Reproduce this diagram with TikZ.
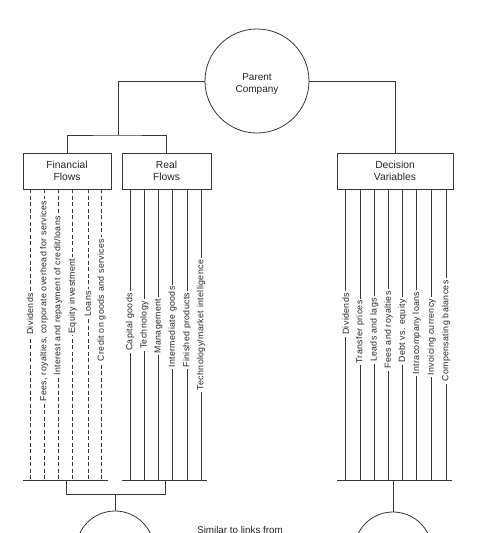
\documentclass[tikz,border=0pt]{standalone}
\usepackage{fontspec}
\setmainfont{Liberation Sans}
\newfontfamily\labfont[LetterSpace=4]{Liberation Sans}
\begin{document}
\begin{tikzpicture}[x=1pt,y=-1pt,
  ink/.style={draw=black!78, line width=0.8pt},
  circ/.style={ink, circle, minimum size=104pt, inner sep=0pt},
  ctext/.style={align=center, font=\fontsize{10}{12}\selectfont, text=black!85},
  smallcirc/.style={ink, circle, minimum size=78pt, inner sep=0pt},
  box/.style={ink, rectangle, inner sep=0pt, minimum height=36pt, align=center, font=\fontsize{10.3}{11.5}\selectfont, text=black!85},
  flow/.style={ink},
  dflow/.style={ink, dash pattern=on 4pt off 2.5pt},
  lab/.style={fill=white, inner xsep=2pt, inner ysep=0.5pt, rotate=90, font=\labfont\fontsize{8.8}{10}\selectfont, text=black!85}
]
\useasboundingbox (0,0) rectangle (482,533);
\clip (0,0) rectangle (482,533);

% main nodes
\node[circ] (pc) at (257,81) {};
\node[ctext] (pct) at (257,84) {Parent\\Company};
\node[box, minimum width=88pt] (fin) at (67,171) {Financial\\Flows};
\node[box, minimum width=89pt] (real) at (166.5,171) {Real\\Flows};
\node[box, minimum width=116pt] (dec) at (395,171) {Decision\\Variables};
\node[smallcirc] (bl) at (115,550) {};
\node[smallcirc] (br) at (393,551) {};
\node[font=\fontsize{9.8}{11}\selectfont, text=black!85, anchor=north] (sim) at (240,523) {Similar to links from};

% top connectors
\coordinate (lj) at (118,135);
\draw[ink] (pc.west) -| (lj);
\draw[ink] (fin.north) |- (lj) -| (real.north);
\draw[ink] (pc.east) -| (dec.north);

% bars
\coordinate (fb1) at (23,480);  \coordinate (fb2) at (108,480);
\coordinate (rb1) at (122,480); \coordinate (rb2) at (207,480);
\coordinate (db1) at (337,480); \coordinate (db2) at (452,480);
\draw[ink] (fb1) -- (fb2);
\draw[ink] (rb1) -- (rb2);
\draw[ink] (db1) -- (db2);

% flow lines
\foreach \x in {30,44,58,72.5,88,101.5}
  \draw[dflow] (\x,0 |- fin.south) -- (\x,0 |- fb1);
\foreach \x in {130,144.3,158.5,172.5,187,201}
  \draw[flow] (\x,0 |- real.south) -- (\x,0 |- rb1);
\foreach \x in {345.7,360,374.3,388.5,402.7,416.8,431.5,446}
  \draw[flow] (\x,0 |- dec.south) -- (\x,0 |- db1);

% labels
\foreach \x/\y/\t in {
  30/314/{Dividends},
  44/301/{Fees, royalties, corporate overhead for services},
  58/296/{Interest and repayment of credit/loans},
  72.5/296/{Equity investment},
  88/304/{Loans},
  101.5/300/{Credit on goods and services},
  130/322/{Capital goods},
  144.3/325/{Technology},
  158.5/326/{Management},
  172.5/327/{Intermediate goods},
  187/330/{Finished products},
  201/325/{Technology/market intelligence},
  345.7/314/{Dividends},
  360/332/{Transfer prices},
  374.3/330/{Leads and lags},
  388.5/330/{Fees and royalties},
  402.7/331/{Debt vs. equity},
  416.8/333/{Intracompany loans},
  431.5/337/{Invoicing currency},
  446/331/{Compensating balances}}
  \node[lab] at (\x,\y) {\t};

% bottom connectors
\coordinate (fj) at (66,494);
\coordinate (rj) at (165,494);
\coordinate (mj) at (115,494);
\draw[ink] (66,0 |- fb1) -- (fj) -- (rj) -- (165,0 |- rb1);
\draw[ink] (mj) -- (bl.north);
\draw[ink] (br.north |- db1) -- (br.north);
\end{tikzpicture}
\end{document}
